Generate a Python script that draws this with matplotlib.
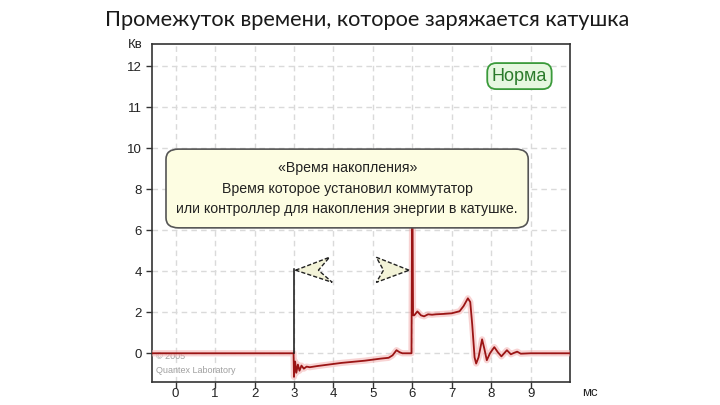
import numpy as np
import matplotlib
matplotlib.use("Agg")
import matplotlib.pyplot as plt
from matplotlib.patches import FancyBboxPatch, Polygon

# ---- data ----
t_ms = [-0.6, 2.99, 3.0, 3.03, 3.06, 3.1, 3.14, 3.19, 3.25, 3.32, 3.4, 3.6, 4.2, 4.8, 5.2, 5.4,
        5.5, 5.6, 5.68, 5.75, 5.98, 6.0, 6.02, 6.05, 6.13, 6.22, 6.3, 6.4, 6.5, 6.6, 6.8, 7.0,
        7.2, 7.3, 7.41, 7.47, 7.52, 7.58, 7.62, 7.68, 7.77, 7.83, 7.89, 7.97, 8.08, 8.17, 8.26,
        8.33, 8.4, 8.5, 8.58, 8.66, 8.75, 9.0, 10.0]
u_kv = [0.0, 0.0, -1.15, -0.4, -0.95, -0.55, -0.85, -0.6, -0.75, -0.65, -0.68, -0.62, -0.47, -0.36, -0.26, -0.22,
        -0.1, 0.15, 0.05, 0.0, 0.0, 9.0, 1.85, 1.85, 2.04, 1.85, 1.8, 1.9, 1.88, 1.9, 1.92, 1.95,
        2.05, 2.3, 2.68, 2.5, 1.4, -0.2, -0.5, -0.2, 0.68, 0.2, -0.34, 0.0, 0.3, 0.05, -0.15,
        0.0, 0.15, -0.05, 0.02, 0.08, -0.02, 0.0, 0.0]
x_ticks = [0, 1, 2, 3, 4, 5, 6, 7, 8, 9]
y_ticks = [0, 2, 4, 6, 8, 10, 11, 12]
title = "Промежуток времени, которое заряжается катушка"
note_lines = "«Время накопления»\nВремя которое установил коммутатор\nили контроллер для накопления энергии в катушке."
badge = "Норма"
start_time = 3.0
marker_level = 4.1

def fwd(y):
    y = np.asarray(y, dtype=float)
    return np.where(y <= 10, y, 10 + 2 * (y - 10))

def inv(t):
    t = np.asarray(t, dtype=float)
    return np.where(t <= 10, t, 10 + (t - 10) / 2)

fig = plt.figure(figsize=(7.2, 4.05), dpi=100)
fig.patch.set_facecolor("white")
ax = fig.add_axes([0.2111, 0.0568, 0.5806, 0.8346])
ax.set_yscale("function", functions=(fwd, inv))
ax.set_xlim(-0.6, 10.0)
ax.set_ylim(-1.4, 12.54)

ax.set_xticks(x_ticks)
ax.set_yticks(y_ticks)
ax.set_xticklabels([str(v) for v in x_ticks])
ax.set_yticklabels([str(v) for v in y_ticks])
ax.yaxis.set_minor_locator(matplotlib.ticker.NullLocator())
ax.tick_params(axis="both", direction="out", length=4, width=1, colors="#333333",
               labelsize=9.5, labelcolor="#222222")
ax.tick_params(axis="x", pad=0.5)
for lab in ax.get_xticklabels() + ax.get_yticklabels():
    lab.set_family("Liberation Sans")
for s in ax.spines.values():
    s.set_color("#333333")
    s.set_linewidth(1.2)
ax.grid(True, color="#dadada", linestyle=(0, (4, 3)), linewidth=1.0)
ax.set_axisbelow(True)

# signal: glow + core
ax.plot(t_ms, u_kv, color="#f3b0b0", lw=4.5, alpha=0.55, solid_joinstyle="round", zorder=3)
ax.plot(t_ms, u_kv, color="#9b1515", lw=1.3, solid_joinstyle="round", zorder=4)

# marker line at start
ax.plot([start_time, start_time], [0, marker_level], color="#111111", lw=1.1, zorder=5)

# chevrons
left_chev = [(3.04, 4.05), (3.9, 4.68), (3.62, 4.05), (3.97, 3.46)]
right_chev = [(5.92, 4.05), (5.09, 4.68), (5.27, 4.05), (5.09, 3.46)]
for pts in (left_chev, right_chev):
    ax.add_patch(Polygon(pts, closed=True, facecolor="#f3f3d8", edgecolor="#222222",
                         linestyle=(0, (3, 1.5)), lw=1.0, zorder=6))

# note box
box = FancyBboxPatch((0.0335, 0.456), 0.8665, 0.233, boxstyle="round,pad=0,rounding_size=0.03",
                     transform=ax.transAxes, facecolor="#fdfde2", edgecolor="#555555", lw=1.2, zorder=7)
ax.add_patch(box)
ax.text(0.467, 0.572, note_lines, transform=ax.transAxes, ha="center", va="center",
        fontsize=10.2, family="Liberation Sans", color="#222222", linespacing=1.6, zorder=8)

# badge
ax.text(0.879, 0.905, badge, transform=ax.transAxes, ha="center", va="center",
        fontsize=13, family="Liberation Sans", color="#2a7a2a", zorder=8,
        bbox=dict(boxstyle="round,pad=0.25,rounding_size=0.5", facecolor="#e6f7e0",
                  edgecolor="#3a9a3a", lw=1.3))

# copyright
ax.text(0.01, 0.055, "© 2005\nQuantex Laboratory", transform=ax.transAxes, ha="left", va="center",
        fontsize=6.5, family="Liberation Sans", color="#a0a0a0", linespacing=1.7, zorder=2)

# units and title
fig.text(135 / 720, 1 - 45 / 405, "Кв", ha="center", va="center", fontsize=9.5,
         family="Liberation Sans", color="#222222")
fig.text(590 / 720, 1 - 393 / 405, "мс", ha="center", va="center", fontsize=9.5,
         family="Liberation Sans", color="#222222")
fig.text(0.51, 1 - 20 / 405, title, ha="center", va="center", fontsize=15.7,
         family="Lato", color="#1a1a1a")

fig.savefig("out.png", dpi=100)
